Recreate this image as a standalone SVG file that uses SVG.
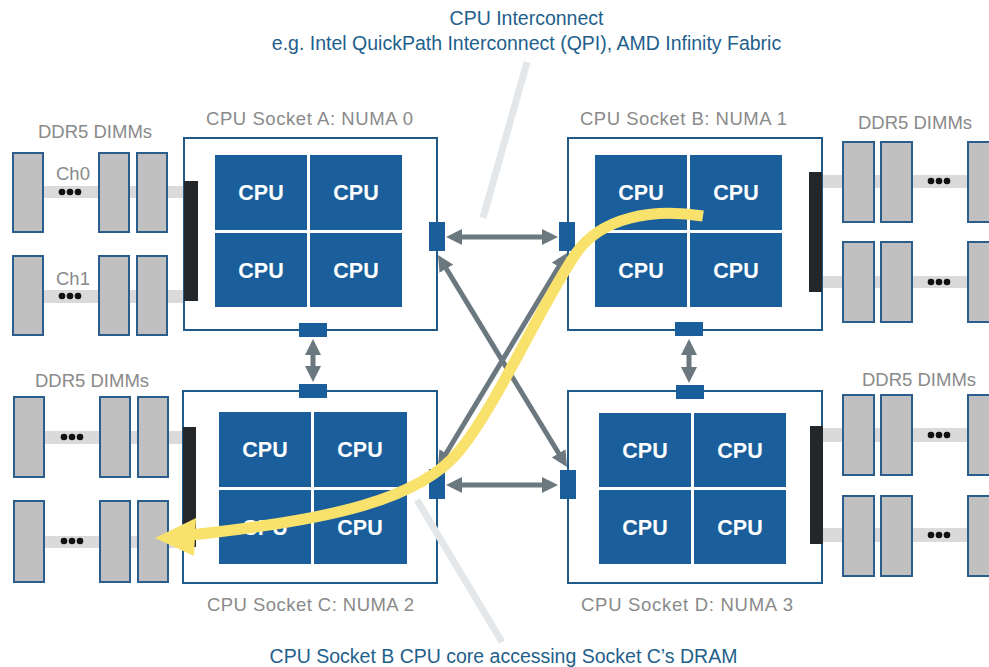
<svg xmlns="http://www.w3.org/2000/svg" width="989" height="667" viewBox="0 0 989 667">
<style>
.box{fill:#fff;stroke:#1f5a88;stroke-width:2}
.cpu{fill:#1a5f9c}
.cput{font-family:"Liberation Sans",Arial,sans-serif;font-weight:bold;font-size:21.5px;fill:#fff;text-anchor:middle}
.port{fill:#1a5f9c}
.bar{fill:#232729}
.dimm{fill:#c0c0c0;stroke:#2b5e8c;stroke-width:2}
.chan{fill:#dadada}
.dot{fill:#111}
.lbl{font-family:"Liberation Sans",Arial,sans-serif;font-size:18.5px;fill:#8a8a8a}
.blue{font-family:"Liberation Sans",Arial,sans-serif;font-size:19.5px;fill:#1f5f8c;text-anchor:middle}
.conn{stroke:#6b7880;stroke-width:5;fill:none;marker-start:url(#ah);marker-end:url(#ah)}
.lead{stroke:#e4e7e9;stroke-width:7;fill:none}
</style>
<defs>
<marker id="ah" markerUnits="userSpaceOnUse" markerWidth="16" markerHeight="16" viewBox="0 0 16 16" refX="2" refY="8" orient="auto-start-reverse">
<path d="M0,0 L16,8 L0,16 z" fill="#6b7880"/>
</marker>
</defs>
<rect width="989" height="667" fill="#fff"/>

<!-- top leader -->
<line class="lead" x1="527" y1="62" x2="483" y2="218"/>

<text class="blue" x="526.5" y="25">CPU Interconnect</text>
<text class="blue" x="526.5" y="50">e.g. Intel QuickPath Interconnect (QPI), AMD Infinity Fabric</text>

<!-- DIMMs top-left -->
<g id="dimms-a">
<text class="lbl" x="38" y="138">DDR5 DIMMs</text>
<rect class="chan" x="43" y="186" width="141" height="12"/>
<rect class="chan" x="43" y="290" width="141" height="13"/>
<rect class="dimm" x="13" y="153" width="30" height="79"/>
<rect class="dimm" x="99" y="153" width="30" height="79"/>
<rect class="dimm" x="137" y="153" width="30" height="79"/>
<rect class="dimm" x="13" y="256" width="30" height="79"/>
<rect class="dimm" x="99" y="256" width="30" height="79"/>
<rect class="dimm" x="137" y="256" width="30" height="79"/>
<text class="lbl" x="56" y="180">Ch0</text>
<text class="lbl" x="56" y="285">Ch1</text>
<circle class="dot" cx="62" cy="192" r="3.3"/><circle class="dot" cx="70" cy="192" r="3.3"/><circle class="dot" cx="78" cy="192" r="3.3"/>
<circle class="dot" cx="62" cy="296" r="3.3"/><circle class="dot" cx="70" cy="296" r="3.3"/><circle class="dot" cx="78" cy="296" r="3.3"/>
</g>

<!-- DIMMs top-right -->
<g id="dimms-b">
<text class="lbl" x="858" y="129">DDR5 DIMMs</text>
<rect class="chan" x="822" y="175" width="167" height="13"/>
<rect class="chan" x="822" y="276" width="167" height="12"/>
<rect class="dimm" x="843" y="142" width="31" height="80"/>
<rect class="dimm" x="881" y="142" width="31" height="80"/>
<rect class="dimm" x="968" y="142" width="31" height="80"/>
<rect class="dimm" x="843" y="242" width="31" height="80"/>
<rect class="dimm" x="881" y="242" width="31" height="80"/>
<rect class="dimm" x="968" y="242" width="31" height="80"/>
<circle class="dot" cx="931" cy="181" r="3.3"/><circle class="dot" cx="939" cy="181" r="3.3"/><circle class="dot" cx="947" cy="181" r="3.3"/>
<circle class="dot" cx="931" cy="282" r="3.3"/><circle class="dot" cx="939" cy="282" r="3.3"/><circle class="dot" cx="947" cy="282" r="3.3"/>
</g>

<!-- DIMMs bottom-left -->
<g id="dimms-c">
<text class="lbl" x="35" y="387">DDR5 DIMMs</text>
<rect class="chan" x="44" y="431" width="140" height="13"/>
<rect class="chan" x="44" y="536" width="140" height="12"/>
<rect class="dimm" x="14" y="397" width="30" height="80"/>
<rect class="dimm" x="100" y="397" width="30" height="80"/>
<rect class="dimm" x="138" y="397" width="30" height="80"/>
<rect class="dimm" x="14" y="501" width="30" height="81"/>
<rect class="dimm" x="100" y="501" width="30" height="81"/>
<rect class="dimm" x="138" y="501" width="30" height="81"/>
<circle class="dot" cx="64" cy="437" r="3.3"/><circle class="dot" cx="72" cy="437" r="3.3"/><circle class="dot" cx="80" cy="437" r="3.3"/>
<circle class="dot" cx="64" cy="541" r="3.3"/><circle class="dot" cx="72" cy="541" r="3.3"/><circle class="dot" cx="80" cy="541" r="3.3"/>
</g>

<!-- DIMMs bottom-right -->
<g id="dimms-d">
<text class="lbl" x="862" y="386">DDR5 DIMMs</text>
<rect class="chan" x="822" y="428" width="167" height="14"/>
<rect class="chan" x="822" y="528" width="167" height="14"/>
<rect class="dimm" x="843" y="395" width="31" height="80"/>
<rect class="dimm" x="881" y="395" width="31" height="80"/>
<rect class="dimm" x="968" y="395" width="31" height="80"/>
<rect class="dimm" x="843" y="496" width="31" height="80"/>
<rect class="dimm" x="881" y="496" width="31" height="80"/>
<rect class="dimm" x="968" y="496" width="31" height="80"/>
<circle class="dot" cx="931" cy="435" r="3.3"/><circle class="dot" cx="939" cy="435" r="3.3"/><circle class="dot" cx="947" cy="435" r="3.3"/>
<circle class="dot" cx="931" cy="535" r="3.3"/><circle class="dot" cx="939" cy="535" r="3.3"/><circle class="dot" cx="947" cy="535" r="3.3"/>
</g>

<!-- Socket A -->
<g id="socket-a">
<text class="lbl" x="206" y="125" textLength="207" lengthAdjust="spacing">CPU Socket A: NUMA 0</text>
<rect class="box" x="184" y="138" width="253" height="192"/>
<rect class="bar" x="184" y="181" width="14" height="120"/>
<rect class="cpu" x="215" y="155" width="92" height="75"/>
<rect class="cpu" x="310" y="155" width="92" height="75"/>
<rect class="cpu" x="215" y="233" width="92" height="74"/>
<rect class="cpu" x="310" y="233" width="92" height="74"/>
<text class="cput" x="261" y="200">CPU</text><text class="cput" x="356" y="200">CPU</text>
<text class="cput" x="261" y="278">CPU</text><text class="cput" x="356" y="278">CPU</text>
<rect class="port" x="429" y="222" width="16" height="29"/>
<rect class="port" x="299" y="323" width="28" height="14"/>
</g>

<!-- Socket B -->
<g id="socket-b">
<text class="lbl" x="580" y="125" textLength="207" lengthAdjust="spacing">CPU Socket B: NUMA 1</text>
<rect class="box" x="568" y="138" width="254" height="192"/>
<rect class="bar" x="809" y="172" width="13" height="120"/>
<rect class="cpu" x="595" y="155" width="92" height="75"/>
<rect class="cpu" x="690" y="155" width="92" height="75"/>
<rect class="cpu" x="595" y="233" width="92" height="74"/>
<rect class="cpu" x="690" y="233" width="92" height="74"/>
<text class="cput" x="641" y="200">CPU</text><text class="cput" x="736" y="200">CPU</text>
<text class="cput" x="641" y="278">CPU</text><text class="cput" x="736" y="278">CPU</text>
<rect class="port" x="559" y="222" width="16" height="29"/>
<rect class="port" x="675" y="322" width="28" height="14"/>
</g>

<!-- Socket C -->
<g id="socket-c">
<text class="lbl" x="207" y="611" textLength="207" lengthAdjust="spacing">CPU Socket C: NUMA 2</text>
<rect class="box" x="183" y="391" width="254" height="192"/>
<rect class="bar" x="183" y="427" width="13" height="120"/>
<rect class="cpu" x="219" y="412" width="92" height="75"/>
<rect class="cpu" x="314" y="412" width="93" height="75"/>
<rect class="cpu" x="219" y="490" width="92" height="74"/>
<rect class="cpu" x="314" y="490" width="93" height="74"/>
<text class="cput" x="265" y="457">CPU</text><text class="cput" x="360" y="457">CPU</text>
<text class="cput" x="265" y="535">CPU</text><text class="cput" x="360" y="535">CPU</text>
<rect class="port" x="299" y="384" width="28" height="14"/>
<rect class="port" x="429" y="469" width="16" height="30"/>
</g>

<!-- Socket D -->
<g id="socket-d">
<text class="lbl" x="581" y="611" textLength="212" lengthAdjust="spacing">CPU Socket D: NUMA 3</text>
<rect class="box" x="568" y="391" width="254" height="192"/>
<rect class="bar" x="810" y="426" width="13" height="118"/>
<rect class="cpu" x="599" y="413" width="92" height="74"/>
<rect class="cpu" x="694" y="413" width="92" height="74"/>
<rect class="cpu" x="599" y="490" width="92" height="74"/>
<rect class="cpu" x="694" y="490" width="92" height="74"/>
<text class="cput" x="645" y="458">CPU</text><text class="cput" x="740" y="458">CPU</text>
<text class="cput" x="645" y="535">CPU</text><text class="cput" x="740" y="535">CPU</text>
<rect class="port" x="676" y="385" width="28" height="14"/>
<rect class="port" x="560" y="470" width="16" height="29"/>
</g>

<!-- bottom leader -->
<line class="lead" x1="417" y1="500" x2="502" y2="642"/>
<text class="blue" x="503.5" y="663">CPU Socket B CPU core accessing Socket C’s DRAM</text>

<g id="connectors">
<line class="conn" x1="460" y1="237" x2="544" y2="237"/>
<line class="conn" x1="460" y1="485" x2="544" y2="485"/>
<line class="conn" x1="313" y1="353" x2="313" y2="368"/>
<line class="conn" x1="689" y1="353" x2="689" y2="369"/>
<line class="conn" x1="445.3" y1="267" x2="559.7" y2="455"/>
<line class="conn" x1="559.8" y1="265" x2="445.2" y2="455"/>
<path d="M703,216 C650,208 602,218 577,252 C542,302 500,400 460,450 C420,500 330,520 190,535" fill="none" stroke="#f9e26c" stroke-width="11"/>
<polygon points="155,538 196,518 194,556" fill="#f9e26c"/>
</g>
</svg>
